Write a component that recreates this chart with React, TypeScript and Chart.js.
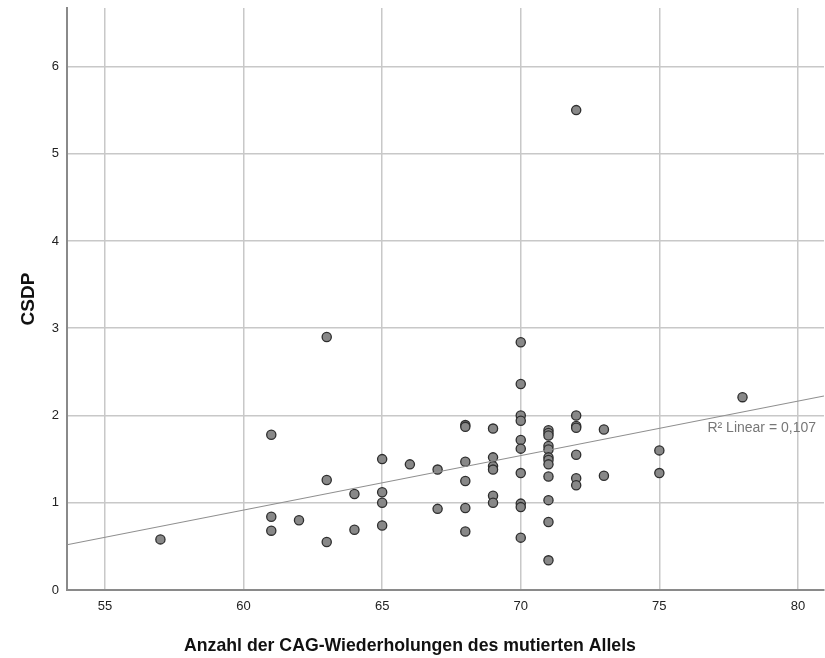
import React, { useEffect, useRef } from "react";
import { Chart, registerables } from "chart.js";

Chart.register(...registerables);

// CAG repeat count of the mutated allele and the matching CSDP value per patient
const cagRepeats: number[] = [
  57,
  61, 61, 61,
  62,
  63, 63, 63,
  64, 64,
  65, 65, 65, 65,
  66,
  67, 67,
  68, 68, 68, 68, 68, 68,
  69, 69, 69, 69, 69, 69,
  70, 70, 70, 70, 70, 70, 70, 70, 70, 70,
  71, 71, 71, 71, 71, 71, 71, 71, 71, 71, 71, 71,
  72, 72, 72, 72, 72, 72, 72,
  73, 73,
  75, 75,
  78,
];

const csdp: number[] = [
  0.58,
  1.78, 0.84, 0.68,
  0.8,
  2.9, 1.26, 0.55,
  1.1, 0.69,
  1.5, 1.12, 1.0, 0.74,
  1.44,
  1.38, 0.93,
  1.89, 1.87, 1.47, 1.25, 0.94, 0.67,
  1.85, 1.52, 1.42, 1.38, 1.08, 1.0,
  2.84, 2.36, 2.0, 1.94, 1.72, 1.62, 1.34, 0.99, 0.95, 0.6,
  1.83, 1.8, 1.77, 1.65, 1.61, 1.52, 1.49, 1.44, 1.3, 1.03, 0.78, 0.34,
  5.5, 2.0, 1.88, 1.86, 1.55, 1.28, 1.2,
  1.84, 1.31,
  1.6, 1.34,
  2.21,
];

const xTitle = "Anzahl der CAG-Wiederholungen des mutierten Allels";
const yTitle = "CSDP";
const fitLabel = "R² Linear = 0,107";

const X_MIN = 53.63;
const X_MAX = 80.94;
const Y_MIN = 0;
const Y_MAX = 6.67;

// ordinary least squares fit of CSDP on the repeat count
function linearFit(xs: number[], ys: number[]) {
  const n = xs.length;
  const mx = xs.reduce((a, b) => a + b, 0) / n;
  const my = ys.reduce((a, b) => a + b, 0) / n;
  let sxy = 0;
  let sxx = 0;
  for (let i = 0; i < n; i++) {
    sxy += (xs[i] - mx) * (ys[i] - my);
    sxx += (xs[i] - mx) * (xs[i] - mx);
  }
  const slope = sxy / sxx;
  return { slope, intercept: my - slope * mx };
}

const FONT = "'Liberation Sans', Arial, sans-serif";

const titlesPlugin = {
  id: "axisTitles",
  afterDraw(chart: any) {
    const { ctx, chartArea, scales } = chart;
    ctx.save();
    ctx.fillStyle = "#111";
    ctx.font = `bold 17.7px ${FONT}`;
    ctx.textAlign = "center";
    ctx.textBaseline = "alphabetic";
    ctx.fillText(xTitle, 410, 651);

    ctx.translate(29, (chartArea.top + chartArea.bottom) / 2);
    ctx.rotate(-Math.PI / 2);
    ctx.font = `bold 19px ${FONT}`;
    ctx.textBaseline = "middle";
    ctx.fillText(yTitle, 0, 0);
    ctx.restore();

    ctx.save();
    ctx.fillStyle = "#777";
    ctx.font = `14px ${FONT}`;
    ctx.textAlign = "right";
    ctx.textBaseline = "alphabetic";
    ctx.fillText(fitLabel, chartArea.right - 8, scales.y.getPixelForValue(1.81));
    ctx.restore();
  },
};

// keep the plot area edge to edge with the fixed layout padding
const noAutoPadding = (s: any) => {
  s.paddingTop = 0;
  s.paddingBottom = 0;
  s.paddingLeft = 0;
  s.paddingRight = 0;
};

export default function App() {
  const canvasRef = useRef<HTMLCanvasElement | null>(null);

  useEffect(() => {
    const canvas = canvasRef.current;
    if (!canvas) return;
    const points = cagRepeats.map((x, i) => ({ x, y: csdp[i] }));
    const fit = linearFit(cagRepeats, csdp);
    const fitLine = [X_MIN, X_MAX].map((x) => ({ x, y: fit.intercept + fit.slope * x }));

    const chart = new Chart(canvas, {
      type: "scatter",
      data: {
        datasets: [
          {
            type: "line",
            data: fitLine,
            borderColor: "#8f8f8f",
            borderWidth: 1.2,
            pointRadius: 0,
            fill: false,
            order: 0,
          } as any,
          {
            data: points,
            backgroundColor: "#888888",
            borderColor: "#2e2e2e",
            borderWidth: 1.3,
            pointRadius: 4.6,
            pointHoverRadius: 4.6,
            order: 1,
          },
        ],
      },
      options: {
        responsive: false,
        animation: false,
        layout: { autoPadding: false, padding: { top: 8, right: 1, left: 0, bottom: 0 } },
        plugins: {
          legend: { display: false },
          tooltip: { enabled: false },
        },
        scales: {
          x: {
            type: "linear",
            min: X_MIN,
            max: X_MAX,
            afterFit: (s: any) => {
              s.height = 68;
              noAutoPadding(s);
            },
            ticks: {
              stepSize: 5,
              includeBounds: false,
              color: "#222",
              font: { family: FONT, size: 13 },
              padding: 9,
            },
            grid: { color: "#c8c8c8", lineWidth: 1.5, drawTicks: false },
            border: { color: "#8a8a8a", width: 2 },
          },
          y: {
            type: "linear",
            min: Y_MIN,
            max: Y_MAX,
            afterFit: (s: any) => {
              s.width = 67;
              noAutoPadding(s);
            },
            ticks: {
              stepSize: 1,
              includeBounds: false,
              color: "#222",
              font: { family: FONT, size: 13 },
              padding: 8,
            },
            grid: { color: "#c8c8c8", lineWidth: 1.5, drawTicks: false },
            border: { color: "#8a8a8a", width: 2 },
          },
        },
      },
      plugins: [titlesPlugin],
    });
    return () => chart.destroy();
  }, []);

  return (
    <div style={{ position: "fixed", left: 0, top: 0, width: 825, height: 658, background: "#fff" }}>
      <canvas ref={canvasRef} width={825} height={658} />
    </div>
  );
}
